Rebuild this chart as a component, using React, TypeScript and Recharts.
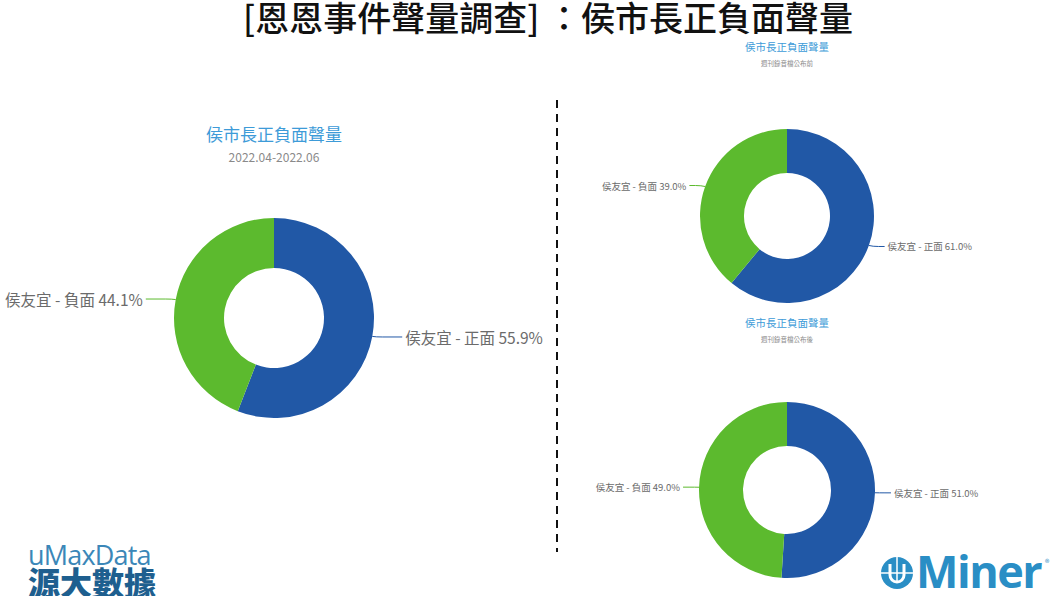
import React from 'react';
import { PieChart, Pie, Cell } from 'recharts';

const categories = ['侯友宜 - 正面', '侯友宜 - 負面'];
const overallValues = [55.9, 44.1];
const beforeValues = [61.0, 39.0];
const afterValues = [51.0, 49.0];
const colors = ['#2158a6', '#5cba2e'];

const mainTitle = '[恩恩事件聲量調查] ：侯市長正負面聲量';
const chartTitle = '侯市長正負面聲量';
const overallSubtitle = '2022.04-2022.06';
const beforeSubtitle = '週刊錄音檔公布前';
const afterSubtitle = '週刊錄音檔公布後';

const toData = (vals: number[]) => categories.map((name, i) => ({ name, value: vals[i] }));

const FONT = '"Noto Sans CJK TC", "Noto Sans", sans-serif';
const RAD = Math.PI / 180;

const makeLabel = (fontSize: number, lineLen: number) => (props: any) => {
  const { cx, cy, midAngle, outerRadius, name, value, index } = props;
  const cos = Math.cos(-midAngle * RAD);
  const sin = Math.sin(-midAngle * RAD);
  const x0 = cx + outerRadius * cos;
  const y0 = cy + outerRadius * sin;
  const x1 = x0 + 4 * cos;
  const y1 = y0 + 3 * sin;
  const dir = cos >= 0 ? 1 : -1;
  const x2 = x1 + dir * lineLen;
  return (
    <g key={`lbl-${index}`}>
      <path d={`M${x0},${y0}Q${x1},${y1} ${x1 + dir * 6},${y1}L${x2},${y1}`} stroke={colors[index]} strokeWidth={1} fill="none" />
      <text x={x2 + dir * 3} y={y1} textAnchor={dir > 0 ? 'start' : 'end'} dominantBaseline="central" fontSize={fontSize} fill="#6b6b6b" fontFamily={FONT}>
        {`${name} ${Number(value).toFixed(1)}%`}
      </text>
    </g>
  );
};

const abs = (style: React.CSSProperties): React.CSSProperties => ({ position: 'absolute', whiteSpace: 'nowrap', ...style });

export default function App() {
  return (
    <div style={{ position: 'absolute', left: 0, top: 0, width: 1060, height: 596, background: '#fff', overflow: 'hidden', fontFamily: FONT }}>
      <div style={abs({ left: 0, top: 0, width: 1096, textAlign: 'center', fontSize: 34, lineHeight: '34px', fontWeight: 500, color: '#111' })}>{mainTitle}</div>

      <div style={abs({ left: 174, top: 124, width: 200, textAlign: 'center', fontSize: 17, lineHeight: '20px', color: '#3d9bd8' })}>{chartTitle}</div>
      <div style={abs({ left: 174, top: 150, width: 200, textAlign: 'center', fontSize: 12, lineHeight: '14px', color: '#8a8a8a' })}>{overallSubtitle}</div>

      <div style={abs({ left: 687, top: 41, width: 200, textAlign: 'center', fontSize: 10.5, lineHeight: '12px', color: '#3d9bd8' })}>{chartTitle}</div>
      <div style={abs({ left: 687, top: 59, width: 200, textAlign: 'center', fontSize: 6.5, lineHeight: '8px', color: '#8a8a8a' })}>{beforeSubtitle}</div>

      <div style={abs({ left: 687, top: 317, width: 200, textAlign: 'center', fontSize: 10.5, lineHeight: '12px', color: '#3d9bd8' })}>{chartTitle}</div>
      <div style={abs({ left: 687, top: 335, width: 200, textAlign: 'center', fontSize: 6.5, lineHeight: '8px', color: '#8a8a8a' })}>{afterSubtitle}</div>

      <div style={abs({ left: 0, top: 0 })}>
        <PieChart width={1060} height={596} margin={{ top: 0, right: 0, bottom: 0, left: 0 }}>
          <Pie data={toData(overallValues)} dataKey="value" nameKey="name" cx={274} cy={318} innerRadius={50} outerRadius={100}
            startAngle={90} endAngle={-270} stroke="none" isAnimationActive={false} labelLine={false} label={makeLabel(15.5, 26)}>
            {overallValues.map((_, i) => <Cell key={i} fill={colors[i]} />)}
          </Pie>
          <Pie data={toData(beforeValues)} dataKey="value" nameKey="name" cx={787} cy={216} innerRadius={43} outerRadius={87}
            startAngle={90} endAngle={-270} stroke="none" isAnimationActive={false} labelLine={false} label={makeLabel(9.5, 12)}>
            {beforeValues.map((_, i) => <Cell key={i} fill={colors[i]} />)}
          </Pie>
          <Pie data={toData(afterValues)} dataKey="value" nameKey="name" cx={787} cy={490} innerRadius={44} outerRadius={88}
            startAngle={90} endAngle={-270} stroke="none" isAnimationActive={false} labelLine={false} label={makeLabel(9.5, 12)}>
            {afterValues.map((_, i) => <Cell key={i} fill={colors[i]} />)}
          </Pie>
        </PieChart>
      </div>

      <svg width={1060} height={596} style={abs({ left: 0, top: 0, pointerEvents: 'none' })}>
        <line x1={557} y1={100} x2={557} y2={552} stroke="#111" strokeWidth={2} strokeDasharray="8 6" />
        <g transform="translate(897,573)">
          <circle r={16} fill="#2a8ec5" />
          <path d="M-7,-9 V2 A7,7 0 0 0 7,2 V-9" stroke="#fff" strokeWidth={3} fill="none" />
          <line x1={-16} y1={0} x2={16} y2={0} stroke="#fff" strokeWidth={1.5} />
          <line x1={0} y1={-16} x2={0} y2={9} stroke="#fff" strokeWidth={1.5} />
        </g>
      </svg>

      <div style={abs({ left: 916, top: 550, fontSize: 45, lineHeight: '42px', fontWeight: 700, color: '#2a8ec5', fontFamily: '"Open Sans", sans-serif', letterSpacing: -1.5 })}>Miner</div>
      <div style={abs({ left: 1045, top: 558, fontSize: 9, lineHeight: '10px', color: '#2a8ec5' })}>®</div>

      <div style={abs({ left: 28, top: 543, fontSize: 27, lineHeight: '24px', fontWeight: 500, color: '#3b87b8', fontFamily: '"Open Sans", sans-serif', letterSpacing: -0.8 })}>uMaxData</div>
      <div style={abs({ left: 28, top: 567, fontSize: 32, lineHeight: '28px', fontWeight: 900, color: '#1e5f8f' })}>源大數據</div>
    </div>
  );
}
